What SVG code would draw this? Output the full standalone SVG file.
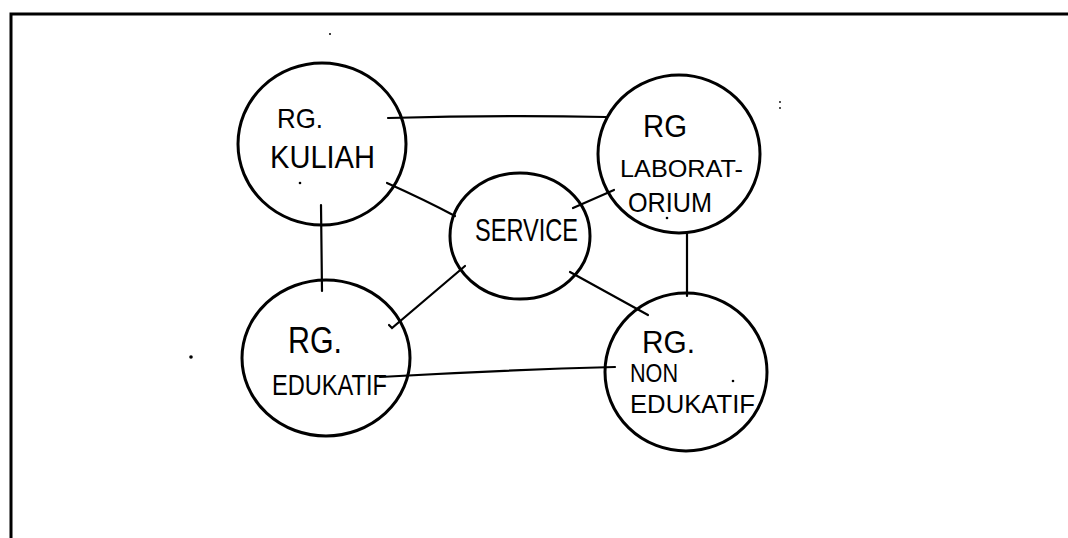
<svg xmlns="http://www.w3.org/2000/svg" width="1068" height="538" viewBox="0 0 1068 538">
  <style>
    .frame { stroke: #000; stroke-width: 3; fill: none; }
    .room { fill: none; stroke: #000; stroke-width: 3; stroke-linecap: round; }
    .link { fill: none; stroke: #000; stroke-width: 2.2; stroke-linecap: round; }
    .lbl { font-family: "Liberation Sans", "DejaVu Sans", sans-serif; fill: #000; }
    .speck { fill: #000; }
  </style>
  <rect width="1068" height="538" fill="#fff"/>

  <!-- page frame: top and left edges only -->
  <path class="frame" d="M11 538 L11 14 L1068 14"/>

  <!-- connectors -->
  <g id="connectors">
    <path class="link" d="M388 118 Q500 115 606 117"/>
    <path class="link" d="M321 205 L322 291"/>
    <path class="link" d="M687 232 L687 296"/>
    <path class="link" d="M387 183 Q425 200 455 216"/>
    <path class="link" d="M573 208 L614 190"/>
    <path class="link" d="M465 266 L392 328 L389 325"/>
    <path class="link" d="M570 272 Q610 294 648 315"/>
    <path class="link" d="M380 377 Q500 370 615 367"/>
  </g>

  <!-- rooms -->
  <g id="rg-kuliah">
    <ellipse class="room" cx="322" cy="144" rx="84" ry="81"/>
    <text class="lbl" x="277" y="128" font-size="28" textLength="46" lengthAdjust="spacingAndGlyphs">RG.</text>
    <text class="lbl" x="270" y="168" font-size="32" textLength="105" lengthAdjust="spacingAndGlyphs">KULIAH</text>
    <circle class="speck" cx="300" cy="183" r="1.3"/>
  </g>

  <g id="rg-laboratorium">
    <ellipse class="room" cx="679" cy="154" rx="81" ry="79"/>
    <text class="lbl" x="643" y="137" font-size="32" textLength="44" lengthAdjust="spacingAndGlyphs">RG</text>
    <text class="lbl" x="620" y="177" font-size="23" textLength="123" lengthAdjust="spacingAndGlyphs">LABORAT-</text>
    <text class="lbl" x="628" y="212" font-size="28" textLength="84" lengthAdjust="spacingAndGlyphs">ORIUM</text>
    <circle class="speck" cx="667" cy="218" r="1.3"/>
  </g>

  <g id="service">
    <ellipse class="room" cx="520" cy="236" rx="70" ry="63"/>
    <text class="lbl" x="475" y="241" font-size="32" textLength="103" lengthAdjust="spacingAndGlyphs">SERVICE</text>
  </g>

  <g id="rg-edukatif">
    <ellipse class="room" cx="326" cy="358" rx="84" ry="78"/>
    <text class="lbl" x="288" y="353" font-size="36" textLength="54" lengthAdjust="spacingAndGlyphs">RG.</text>
    <text class="lbl" x="272" y="395" font-size="30" textLength="115" lengthAdjust="spacingAndGlyphs">EDUKATIF</text>
  </g>

  <g id="rg-non-edukatif">
    <ellipse class="room" cx="686" cy="372" rx="81" ry="79"/>
    <text class="lbl" x="642" y="353" font-size="32" textLength="53" lengthAdjust="spacingAndGlyphs">RG.</text>
    <text class="lbl" x="630" y="382" font-size="26" textLength="48" lengthAdjust="spacingAndGlyphs">NON</text>
    <text class="lbl" x="630" y="413" font-size="25" textLength="125" lengthAdjust="spacingAndGlyphs">EDUKATIF</text>
    <circle class="speck" cx="733" cy="381" r="1.3"/>
  </g>

  <!-- loose pen marks on the sheet -->
  <circle class="speck" cx="330" cy="34" r="1"/>
  <circle class="speck" cx="780" cy="102" r="0.9"/>
  <circle class="speck" cx="780" cy="108" r="0.9"/>
  <circle class="speck" cx="191" cy="357" r="1.8"/>
</svg>
